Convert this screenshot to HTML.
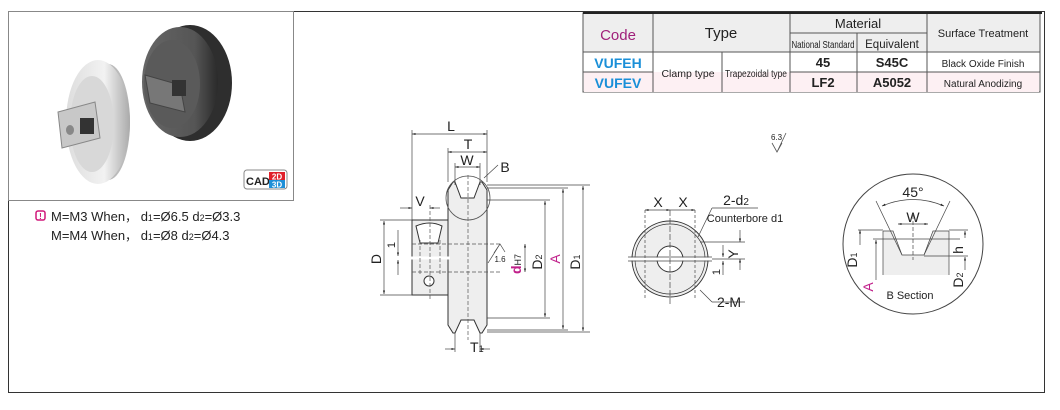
<!DOCTYPE html>
<html><head><meta charset="utf-8"><style>
body{margin:0;background:#fff;}
svg{display:block;font-family:"Liberation Sans",Arial,sans-serif;}
</style></head><body>
<svg width="1060" height="410" viewBox="0 0 1060 410" xmlns="http://www.w3.org/2000/svg">
<defs>
<marker id="a" viewBox="0 0 10 10" refX="10" refY="5" markerWidth="7" markerHeight="5" orient="auto-start-reverse"><path d="M0,2 L10,5 L0,8z" fill="#222"/></marker>
<linearGradient id="g1" x1="0" y1="0" x2="1" y2="0"><stop offset="0" stop-color="#ddd"/><stop offset="0.6" stop-color="#f2f2f2"/><stop offset="1" stop-color="#aaa"/></linearGradient>
<linearGradient id="g2" x1="0" y1="0" x2="1" y2="0"><stop offset="0" stop-color="#666"/><stop offset="0.7" stop-color="#555"/><stop offset="1" stop-color="#2a2a2a"/></linearGradient>
</defs>
<rect x="8.5" y="11.5" width="1036" height="381" fill="#fff" stroke="#333"/>
<!-- photo panel -->
<rect x="8.5" y="11.5" width="285" height="189" fill="#fff" stroke="#888"/>
<ellipse cx="190" cy="83" rx="42" ry="58" fill="#2e2e2e"/>
<ellipse cx="180" cy="82" rx="38" ry="55" fill="url(#g2)"/>
<ellipse cx="172" cy="84" rx="28" ry="44" fill="#5a5a5a"/>
<polygon points="145,75 180,85 185,112 150,103" fill="#777" stroke="#444"/>
<rect x="172" y="80" width="14" height="16" fill="#333"/>
<ellipse cx="108" cy="122" rx="22" ry="58" fill="#bbb"/>
<ellipse cx="98" cy="122" rx="32" ry="62" fill="url(#g1)"/>
<ellipse cx="92" cy="124" rx="22" ry="48" fill="#d8d8d8"/>
<polygon points="58,112 95,102 100,138 62,148" fill="#c8c8c8" stroke="#888"/>
<rect x="80" y="118" width="14" height="16" fill="#333"/>
<ellipse cx="70" cy="130" rx="4" ry="5" fill="#888"/>
<rect x="244" y="170" width="43" height="19" rx="3" fill="#fff" stroke="#888"/>
<text x="246" y="185" font-size="11" font-weight="bold" fill="#222">CAD</text>
<rect x="269" y="172" width="16" height="8" fill="#e0202a"/><rect x="269" y="180" width="16" height="8" fill="#1e8fd8"/>
<text x="277" y="179.5" font-size="8" font-weight="bold" fill="#fff" text-anchor="middle">2D</text>
<text x="277" y="187.5" font-size="8" font-weight="bold" fill="#fff" text-anchor="middle">3D</text>
<rect x="36" y="211" width="9" height="9" rx="2" fill="none" stroke="#d0187a" stroke-width="1.5"/>
<text x="40.5" y="219" font-size="8" fill="#d0187a" text-anchor="middle" font-weight="bold">!</text>
<text x="51" y="221" font-size="13" fill="#222">M=M3 When<tspan font-size="12">，</tspan> d<tspan font-size="9">1</tspan>=Ø6.5  d<tspan font-size="9">2</tspan>=Ø3.3</text>
<text x="51" y="240" font-size="13" fill="#222">M=M4 When<tspan font-size="12">，</tspan> d<tspan font-size="9">1</tspan>=Ø8      d<tspan font-size="9">2</tspan>=Ø4.3</text>
<!-- table -->
<g stroke="#555" stroke-width="1" fill="none">
<rect x="583" y="13" width="457" height="79" fill="#fff"/>
<rect x="583" y="13" width="457" height="39" fill="#eee"/>
<rect x="584" y="72" width="455" height="20" fill="#fdf0f3" stroke="none"/>
<line x1="583" y1="52" x2="1040" y2="52"/><line x1="583" y1="72" x2="653" y2="72"/><line x1="790" y1="72" x2="1040" y2="72"/>
<line x1="790" y1="33" x2="927" y2="33"/>
<line x1="653" y1="13" x2="653" y2="92"/><line x1="722" y1="52" x2="722" y2="92"/>
<line x1="790" y1="13" x2="790" y2="92"/><line x1="857" y1="33" x2="857" y2="92"/><line x1="927" y1="13" x2="927" y2="92"/>
</g>
<line x1="583" y1="13" x2="1042" y2="13" stroke="#222" stroke-width="2"/>
<text x="618" y="40" font-size="15" fill="#a0207a" text-anchor="middle">Code</text>
<text x="721" y="38" font-size="15" fill="#222" text-anchor="middle">Type</text>
<text x="858" y="28" font-size="13" fill="#222" text-anchor="middle">Material</text>
<text x="823" y="48" font-size="10" fill="#222" text-anchor="middle" textLength="63" lengthAdjust="spacingAndGlyphs">National Standard</text>
<text x="892" y="48" font-size="11.5" fill="#222" text-anchor="middle">Equivalent</text>
<text x="983" y="37" font-size="11" fill="#222" text-anchor="middle">Surface Treatment</text>
<text x="618" y="68" font-size="14" font-weight="bold" fill="#1a8fd8" text-anchor="middle">VUFEH</text>
<text x="618" y="88" font-size="14" font-weight="bold" fill="#1a8fd8" text-anchor="middle">VUFEV</text>
<text x="688" y="77" font-size="10.5" fill="#222" text-anchor="middle">Clamp type</text>
<text x="756" y="77" font-size="10" fill="#222" text-anchor="middle" textLength="62" lengthAdjust="spacingAndGlyphs">Trapezoidal type</text>
<text x="823" y="67" font-size="13" font-weight="bold" fill="#222" text-anchor="middle">45</text>
<text x="823" y="87" font-size="13" font-weight="bold" fill="#222" text-anchor="middle">LF2</text>
<text x="892" y="67" font-size="13" font-weight="bold" fill="#222" text-anchor="middle">S45C</text>
<text x="892" y="87" font-size="13" font-weight="bold" fill="#222" text-anchor="middle">A5052</text>
<text x="983" y="67" font-size="10" fill="#222" text-anchor="middle">Black Oxide Finish</text>
<text x="983" y="87" font-size="10" fill="#222" text-anchor="middle">Natural Anodizing</text>
<!-- surface mark -->
<text x="771" y="140" font-size="8" fill="#222">6.3</text>
<path d="M772,143 L777,152 L782,143 M777,152 L786,133" stroke="#555" fill="none" stroke-width="0.8"/>
<!-- side view pulley -->
<g stroke="#333" stroke-width="1" fill="#eee">
<rect x="412" y="220" width="36" height="75"/>
<path d="M448,190 L453,182 L455,182 L461,198 L474,198 L480,182 L482,182 L487,190 L487,325 L482,333 L480,333 L474,320 L461,320 L455,333 L453,333 L448,325z"/>
<path d="M416,226 Q430,220 442,226 L438,243 L420,243z" fill="#fff"/>
<circle cx="429" cy="281" r="5" fill="#fff"/>
</g>
<line x1="410" y1="258" x2="450" y2="258" stroke="#fff" stroke-width="3"/>
<g stroke="#555" stroke-width="0.7" stroke-dasharray="4,2" fill="none">
<line x1="468" y1="175" x2="468" y2="340"/><line x1="430" y1="205" x2="430" y2="300"/>
<line x1="412" y1="244" x2="500" y2="244"/><line x1="412" y1="272" x2="500" y2="272"/>
<line x1="420" y1="240" x2="420" y2="275"/><line x1="440" y1="240" x2="440" y2="275"/>
</g>
<circle cx="468" cy="198" r="22" fill="none" stroke="#555" stroke-width="0.8"/>
<g stroke="#444" stroke-width="0.7" fill="none">
<line x1="412" y1="130" x2="412" y2="220"/><line x1="487" y1="130" x2="487" y2="182"/>
<line x1="412" y1="134" x2="487" y2="134" marker-start="url(#a)" marker-end="url(#a)"/>
<line x1="448" y1="148" x2="448" y2="182"/>
<line x1="448" y1="152" x2="487" y2="152" marker-start="url(#a)" marker-end="url(#a)"/>
<line x1="455" y1="163" x2="455" y2="185"/><line x1="480" y1="163" x2="480" y2="185"/>
<line x1="455" y1="167" x2="480" y2="167" marker-start="url(#a)" marker-end="url(#a)"/>
<line x1="484" y1="178" x2="498" y2="165"/>
<line x1="400" y1="208" x2="412" y2="208" marker-end="url(#a)"/><line x1="430" y1="208" x2="440" y2="208" marker-start="url(#a)"/>
<line x1="380" y1="220" x2="412" y2="220"/><line x1="380" y1="295" x2="412" y2="295"/>
<line x1="384" y1="221" x2="384" y2="294" marker-start="url(#a)" marker-end="url(#a)"/>
<line x1="398" y1="230" x2="398" y2="256" marker-end="url(#a)"/><line x1="398" y1="260" x2="398" y2="275" marker-start="url(#a)"/>
<line x1="487" y1="185" x2="590" y2="185"/><line x1="487" y1="332" x2="590" y2="332"/>
<line x1="487" y1="188" x2="568" y2="188"/><line x1="487" y1="330" x2="568" y2="330"/>
<line x1="487" y1="200" x2="550" y2="200"/><line x1="487" y1="318" x2="550" y2="318"/>
<line x1="583" y1="186" x2="583" y2="331" marker-start="url(#a)" marker-end="url(#a)"/>
<line x1="563" y1="189" x2="563" y2="329" marker-start="url(#a)" marker-end="url(#a)"/>
<line x1="545" y1="201" x2="545" y2="317" marker-start="url(#a)" marker-end="url(#a)"/>
<line x1="525" y1="244" x2="525" y2="272" marker-start="url(#a)" marker-end="url(#a)"/>
<path d="M488,263 L500,244 L505,252 M500,244 L494,253"/>
<line x1="455" y1="333" x2="455" y2="352"/><line x1="480" y1="333" x2="480" y2="352"/>
<line x1="445" y1="349" x2="455" y2="349" marker-end="url(#a)"/><line x1="490" y1="349" x2="480" y2="349" marker-end="url(#a)"/>
</g>
<g font-size="14" fill="#222" text-anchor="middle">
<text x="451" y="131">L</text><text x="468" y="149">T</text><text x="467" y="165">W</text>
<text x="505" y="172">B</text><text x="420" y="206">V</text>
<text x="470" y="352" text-anchor="start">T<tspan font-size="9">1</tspan></text>
<text transform="translate(381,259) rotate(-90)">D</text>
<text transform="translate(395,245) rotate(-90)" font-size="11">1</text>
<text transform="translate(542,262) rotate(-90)">D<tspan font-size="9">2</tspan></text>
<text transform="translate(560,259) rotate(-90)" fill="#c0208a">A</text>
<text transform="translate(580,262) rotate(-90)">D<tspan font-size="9">1</tspan></text>
<text transform="translate(521,264) rotate(-90)" fill="#c0208a" font-weight="bold">d<tspan font-size="9" fill="#222" font-weight="normal">H7</tspan></text>
<text x="500" y="262" font-size="8">1.6</text>
</g>
<!-- clamp end view -->
<circle cx="670" cy="259" r="38" fill="#eee" stroke="#333"/>
<circle cx="670" cy="259" r="35" fill="none" stroke="#333" stroke-width="0.7"/>
<circle cx="670" cy="259" r="13" fill="#fff" stroke="#333"/>
<line x1="628" y1="259" x2="712" y2="259" stroke="#fff" stroke-width="3"/>
<g stroke="#444" stroke-width="0.7" fill="none">
<line x1="628" y1="257" x2="712" y2="257"/><line x1="628" y1="261" x2="712" y2="261"/>
<line x1="670" y1="210" x2="670" y2="305" stroke-dasharray="6,2"/>
<line x1="645" y1="210" x2="645" y2="300" stroke-dasharray="3,2"/><line x1="695" y1="210" x2="695" y2="300" stroke-dasharray="3,2"/>
<line x1="645" y1="210" x2="670" y2="210" marker-start="url(#a)" marker-end="url(#a)"/>
<line x1="670" y1="210" x2="695" y2="210" marker-end="url(#a)"/>
<line x1="698" y1="237" x2="712" y2="208" /><line x1="712" y1="208" x2="758" y2="208"/>
<line x1="700" y1="242" x2="745" y2="242"/><line x1="712" y1="259" x2="745" y2="259"/>
<line x1="740" y1="230" x2="740" y2="242" marker-end="url(#a)"/><line x1="740" y1="259" x2="740" y2="270" marker-start="url(#a)"/>
<line x1="723" y1="245" x2="723" y2="257" marker-end="url(#a)"/><line x1="723" y1="261" x2="723" y2="275" marker-start="url(#a)"/>
<line x1="700" y1="290" x2="712" y2="302"/><line x1="712" y1="302" x2="745" y2="302"/>
</g>
<g font-size="14" fill="#222" text-anchor="middle">
<text x="658" y="207">X</text><text x="683" y="207">X</text>
<text x="736" y="205">2-d<tspan font-size="10">2</tspan></text>
<text x="745" y="222" font-size="11">Counterbore d1</text>
<text transform="translate(738,254) rotate(-90)">Y</text>
<text transform="translate(720,272) rotate(-90)" font-size="11">1</text>
<text x="729" y="307">2-M</text>
</g>
<!-- B section -->
<circle cx="913" cy="244" r="70" fill="#fff" stroke="#444"/>
<path d="M883,231 L893,231 L902,255 L924,255 L933,231 L949,231 L949,275 L883,275z" fill="#eee" stroke="none"/>
<g stroke="#444" stroke-width="0.7" fill="none">
<path d="M883,231 L893,231 L902,255 L924,255 L933,231 L949,231"/>
<line x1="883" y1="231" x2="883" y2="275"/><line x1="949" y1="231" x2="949" y2="275"/>
<line x1="876" y1="201" x2="902" y2="255"/><line x1="950" y1="201" x2="924" y2="255"/>
<path d="M882,206 Q913,193 944,206" marker-start="url(#a)" marker-end="url(#a)"/>
<line x1="898" y1="224" x2="928" y2="224" marker-start="url(#a)" marker-end="url(#a)"/>
<line x1="913" y1="215" x2="913" y2="260" stroke-dasharray="4,2"/>
<line x1="858" y1="230" x2="883" y2="230"/><line x1="873" y1="239" x2="960" y2="239"/>
<line x1="949" y1="230" x2="968" y2="230"/><line x1="924" y1="256" x2="968" y2="256"/>
<line x1="860" y1="230" x2="860" y2="245" marker-start="url(#a)"/>
<line x1="876" y1="240" x2="876" y2="280" marker-start="url(#a)"/>
<line x1="965" y1="231" x2="965" y2="238" marker-start="url(#a)"/><line x1="965" y1="257" x2="965" y2="270" marker-start="url(#a)"/>
</g>
<g font-size="14" fill="#222" text-anchor="middle">
<text x="913" y="197">45°</text><text x="913" y="222">W</text>
<text transform="translate(857,260) rotate(-90)">D<tspan font-size="9">1</tspan></text>
<text transform="translate(873,287) rotate(-90)" fill="#c0208a">A</text>
<text transform="translate(963,250) rotate(-90)">h</text>
<text transform="translate(963,280) rotate(-90)">D<tspan font-size="9">2</tspan></text>
<text x="910" y="299" font-size="11">B Section</text>
</g>
</svg>
</body></html>
